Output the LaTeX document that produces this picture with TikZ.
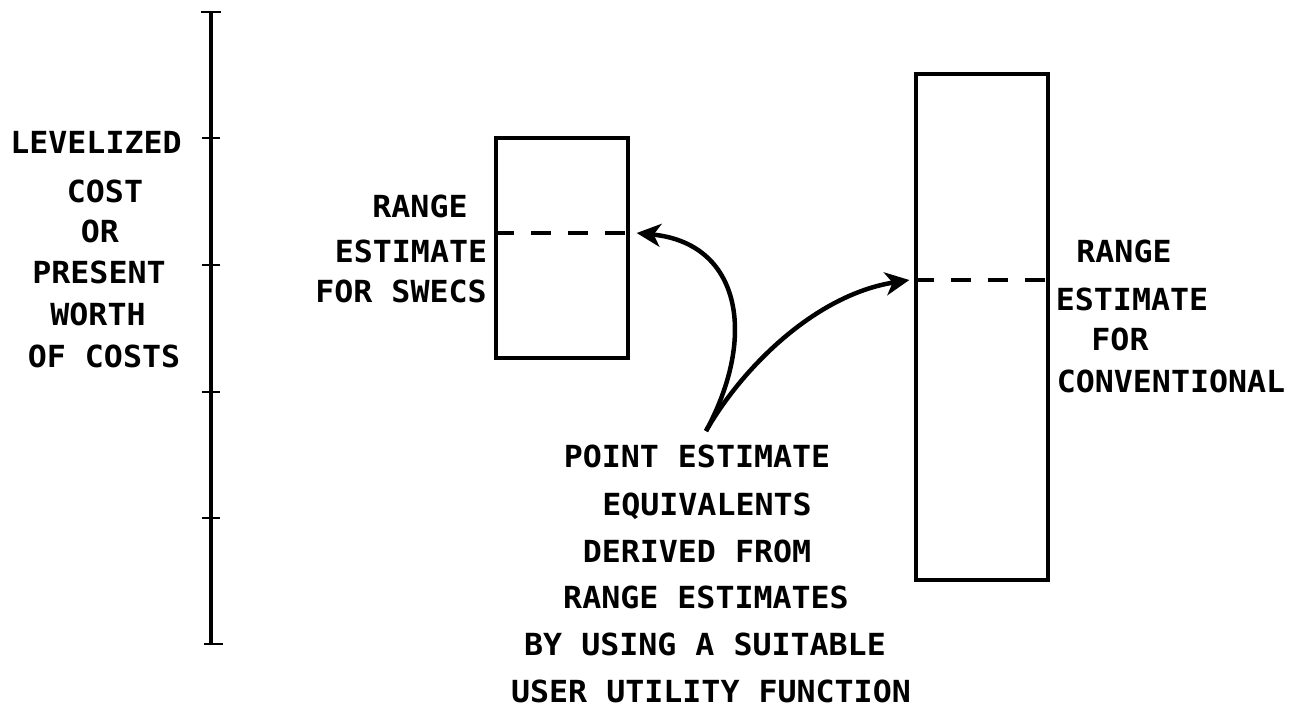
\documentclass[tikz,border=0pt]{standalone}
\usepackage{fontspec}
\newfontfamily\typer[FakeStretch=1.04]{DejaVu Sans Mono Bold}
\usetikzlibrary{arrows.meta}
\begin{document}
\begin{tikzpicture}[x=1pt, y=-1pt,
  axisline/.style={line width=4.5pt},
  tickmark/.style={line width=2.8pt},
  rangebox/.style={draw, line width=3.3pt, minimum width=132pt, inner sep=0pt},
  midline/.style={line width=3.3pt, dash pattern=on 20pt off 17pt},
  pointer/.style={line width=4.5pt, -{Stealth[length=24pt,width=23pt,inset=7pt]}},
  lbl/.style={font=\typer\fontsize{30.4}{33}\selectfont, inner sep=0pt, anchor=base}]

  % page frame
  \fill[white] (0,0) rectangle (1290,707);
  \useasboundingbox (0,0) rectangle (1290,707);

  % vertical cost scale
  \draw[axisline] (211,12) -- (211,644);
  \draw[tickmark] (201,12) -- (221,12);
  \foreach \yy in {138,265,392,518} \draw[tickmark] (202,\yy) -- (220,\yy);
  \draw[tickmark] (204,644) -- (223,644);

  % scale caption
  \node[lbl] (cap1) at (96,153) {LEVELIZED};
  \node[lbl] (cap2) at (105,202) {COST};
  \node[lbl] (cap3) at (100,242) {OR};
  \node[lbl] (cap4) at (99,283) {PRESENT};
  \node[lbl] (cap5) at (98,325) {WORTH};
  \node[lbl] (cap6) at (104,367) {OF COSTS};

  % range estimates
  \node[rangebox, minimum height=220pt] (swecs) at (562,248) {};
  \node[rangebox, minimum height=506pt] (conv) at (982,327) {};

  % point estimate equivalents inside the ranges
  \coordinate (lvl1) at (0,233);
  \coordinate (lvl2) at (0,280);
  \draw[midline] (swecs.west |- lvl1) -- (swecs.east |- lvl1);
  \draw[midline] (conv.west |- lvl2) -- (conv.east |- lvl2);

  % range labels
  \node[lbl] (sw1) at (420,217) {RANGE};
  \node[lbl] (sw2) at (411,262) {ESTIMATE};
  \node[lbl] (sw3) at (401,302) {FOR SWECS};

  \node[lbl] (cv1) at (1124,262) {RANGE};
  \node[lbl] (cv2) at (1132,310) {ESTIMATE};
  \node[lbl] (cv3) at (1120,350) {FOR};
  \node[lbl] (cv4) at (1171,392) {CONVENTIONAL};

  % explanatory note
  \node[lbl] (pe1) at (697,467) {POINT ESTIMATE};
  \node[lbl] (pe2) at (707,515) {EQUIVALENTS};
  \node[lbl] (pe3) at (697,562) {DERIVED FROM};
  \node[lbl] (pe4) at (706,608) {RANGE ESTIMATES};
  \node[lbl] (pe5) at (705,655) {BY USING A SUITABLE};
  \node[lbl] (pe6) at (711,702) {USER UTILITY FUNCTION};

  % pointers from the note to the two equivalents
  \coordinate (src) at (706,431);
  \coordinate (tip1) at ([xshift=7pt]swecs.east |- lvl1);
  \coordinate (tip2) at ([xshift=-5pt]conv.west |- lvl2);
  \draw[pointer] (src) .. controls (758,335) and (740,243) .. (tip1);
  \draw[pointer] (src) .. controls (742,368) and (815,295) .. (tip2);
\end{tikzpicture}
\end{document}
